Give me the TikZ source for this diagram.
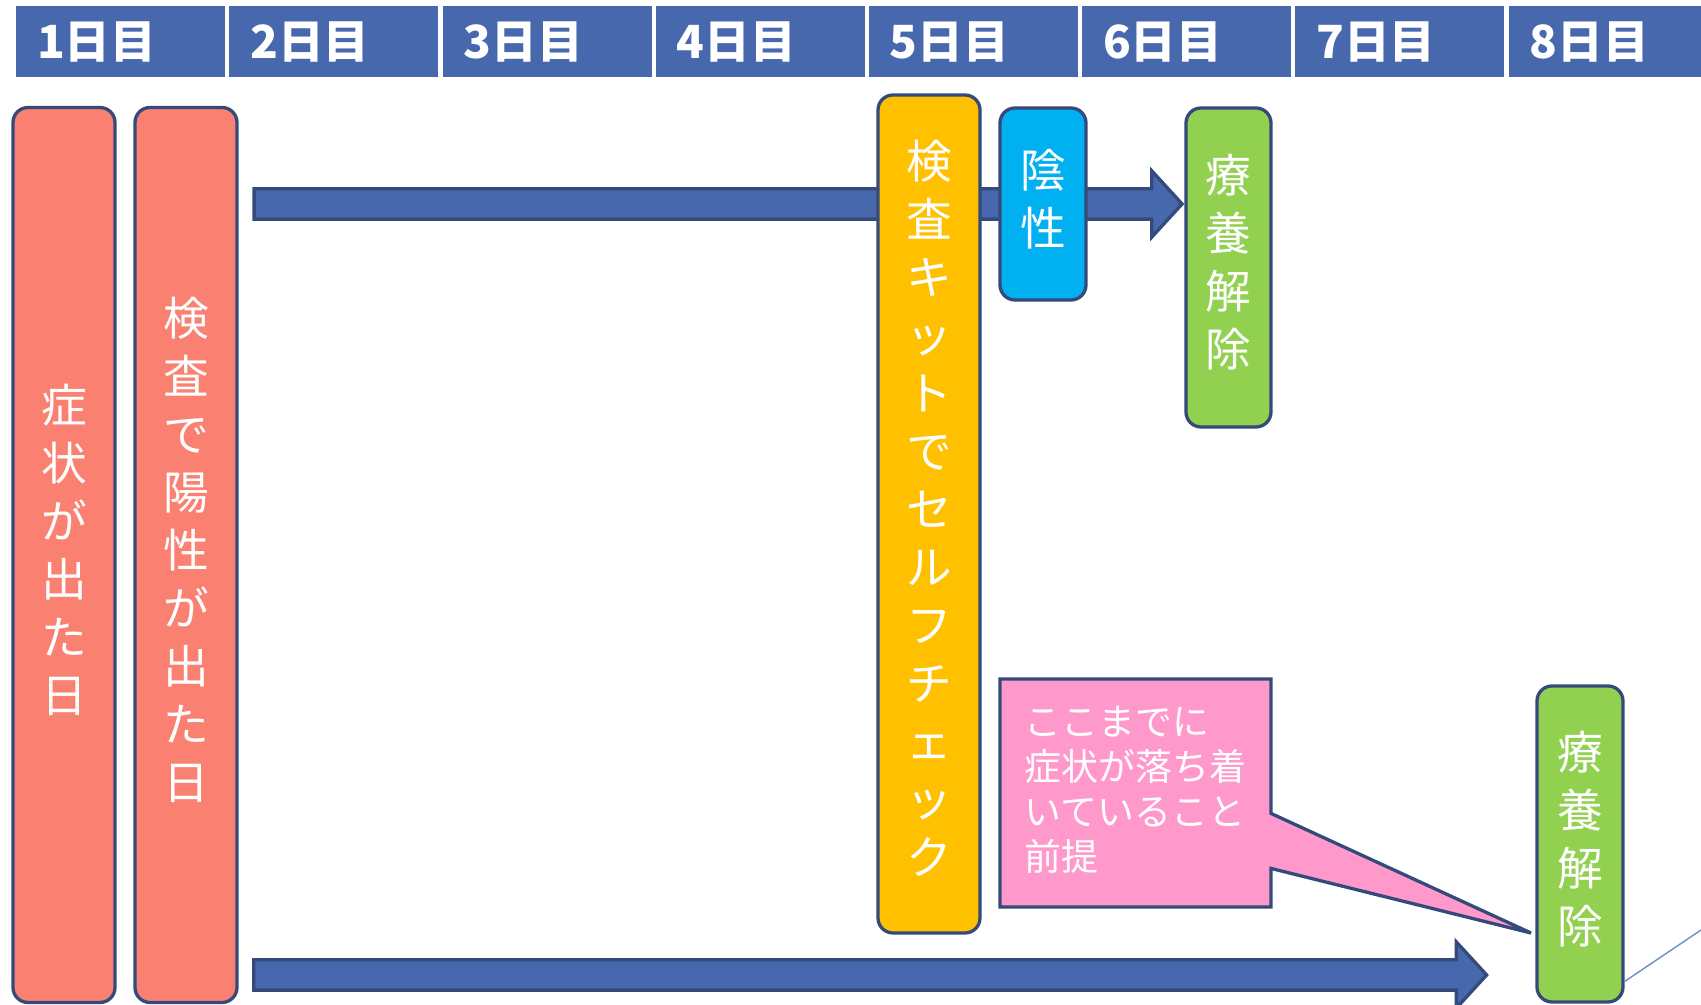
\documentclass[tikz,border=0pt]{standalone}
\usepackage{fontspec}
\setmainfont{Noto Sans CJK JP}
\usetikzlibrary{shapes.arrows,shapes.callouts}

\definecolor{HeaderBlue}{RGB}{72,104,174}
\definecolor{EdgeBlue}{RGB}{52,74,122}
\definecolor{SalmonRed}{RGB}{250,128,114}
\definecolor{KitYellow}{RGB}{255,192,0}
\definecolor{NegCyan}{RGB}{0,176,240}
\definecolor{ReleaseGreen}{RGB}{146,208,80}
\definecolor{NotePink}{RGB}{255,153,204}
\definecolor{ThinBlue}{RGB}{120,146,204}

\begin{document}
\begin{tikzpicture}[x=0.1mm,y=-0.1mm,
	dayhead/.style={draw=white,line width=0.2mm,fill=HeaderBlue,text=white,
		minimum height=7.3mm,inner xsep=2.2mm,text width=16.7mm,align=left,
		font=\bfseries\fontsize{13pt}{14pt}\selectfont},
	stepbox/.style={draw=EdgeBlue,line width=0.33mm,rounded corners=1.5mm,
		text=white,align=center,inner sep=0pt,text depth=1.4mm,
		font=\fontsize{13pt}{16.5pt}\selectfont},
	blockarrow/.style={single arrow,draw=EdgeBlue,line width=0.33mm,fill=HeaderBlue,
		inner xsep=0pt,inner ysep=1.35mm,single arrow head extend=1.8mm,
		single arrow tip angle=95}]

		\useasboundingbox (0,0) rectangle (1701,1005);
		\clip (0,0) rectangle (1701,1005);

		%%% Header
		\node[dayhead] (Day1) at (120.6,41.75) {1日目};
		\node[dayhead] (Day2) at (333.8,41.75) {2日目};
		\node[dayhead] (Day3) at (547,41.75) {3日目};
		\node[dayhead] (Day4) at (760.2,41.75) {4日目};
		\node[dayhead] (Day5) at (973.4,41.75) {5日目};
		\node[dayhead] (Day6) at (1186.6,41.75) {6日目};
		\node[dayhead] (Day7) at (1399.8,41.75) {7日目};
		\node[dayhead] (Day8) at (1613,41.75) {8日目};

        \node[stepbox,fill=SalmonRed,minimum width=10.2mm,minimum height=89.5mm] (Onset) at (64,555) {症\\状\\が\\出\\た\\日};
        \node[stepbox,fill=SalmonRed,minimum width=10.2mm,minimum height=89.5mm] (Positive) at (186,555) {検\\査\\で\\陽\\性\\が\\出\\た\\日};

        \node[stepbox,fill=ReleaseGreen,minimum width=8.5mm,minimum height=31.9mm] (Release) at (1228.5,267.5) {療\\養\\解\\除};
        \node[stepbox,fill=ReleaseGreen,minimum width=8.6mm,minimum height=31.6mm] (LateRelease) at (1580,844) {療\\養\\解\\除};

        \coordinate (LateTail) at (252,975);
        \node[blockarrow,minimum height=92.8mm,anchor=tip] (ShortArrow) at (Release.west |- 0,204) {};
        \node[blockarrow,minimum height=123.3mm,anchor=tail] (LongArrow) at (LateTail) {};

        \node[stepbox,fill=KitYellow,minimum width=10.2mm,minimum height=83.8mm] (SelfCheck) at (929,514) {検\\査\\キ\\ッ\\ト\\で\\セ\\ル\\フ\\チ\\ェ\\ッ\\ク};
        \node[stepbox,fill=NegCyan,minimum width=8.6mm,minimum height=19.2mm] (Negative) at (1043,204) {陰\\性};

        %% callout points at the late release box
        \coordinate (PointerTip) at (1531,933);
        \node[rectangle callout,callout absolute pointer=(PointerTip),callout pointer width=5.5mm,
              draw=EdgeBlue,line width=0.33mm,fill=NotePink,text=white,align=left,
              minimum width=27.1mm,minimum height=22.8mm,inner sep=0pt,text depth=0.9mm,
              font=\fontsize{10.5pt}{12.8pt}\selectfont] (Premise) at (1135.5,793)
              {ここまでに\\症状が落ち着\\いていること\\前提};

        \coordinate (OffEdge) at (1701,930);
        \draw[ThinBlue,line width=0.15mm] (LateRelease.-72.5) -- (OffEdge);
	\end{tikzpicture}
\end{document}
